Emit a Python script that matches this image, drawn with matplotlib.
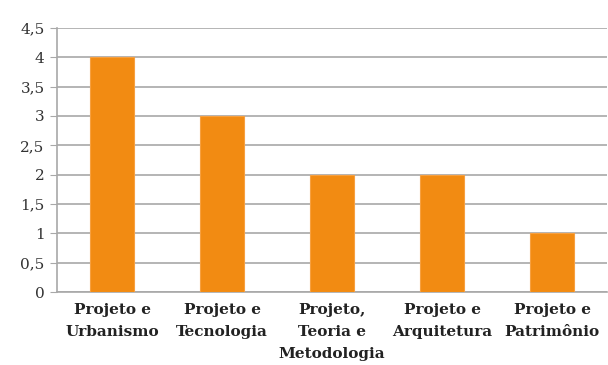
import matplotlib.pyplot as plt
import numpy as np

categorias = ["Projeto e\nUrbanismo", "Projeto e\nTecnologia", "Projeto,\nTeoria e\nMetodologia",
              "Projeto e\nArquitetura", "Projeto e\nPatrimônio"]
valores = [4, 3, 2, 2, 1]
yticks = [0, 0.5, 1, 1.5, 2, 2.5, 3, 3.5, 4, 4.5]
ytick_labels = ["0", "0,5", "1", "1,5", "2", "2,5", "3", "3,5", "4", "4,5"]

fig = plt.figure(figsize=(6.08, 3.65), dpi=100)
ax = fig.add_axes([57/608, 73/365, 550/608, 264/365])

x = np.arange(len(categorias))
ax.bar(x, valores, width=0.4, color="#F28B12", edgecolor="#F7A040", linewidth=0.8, zorder=3)

ax.set_xlim(-0.5, len(categorias) - 0.5)
ax.set_ylim(0, 4.5)
ax.set_yticks(yticks)
ax.set_yticklabels(ytick_labels, family="DejaVu Serif", fontsize=11, color="#333333")
ax.yaxis.grid(True, color="#A8A8A8", linewidth=1.2, zorder=0)
ax.tick_params(axis="y", length=5, color="#A8A8A8", pad=4)

ax.set_xticks(x)
ax.set_xticklabels(categorias, family="DejaVu Serif", fontweight="bold", fontsize=11,
                   color="#222222", linespacing=1.72, va="top")
ax.tick_params(axis="x", length=0, pad=8)

for s in ["top", "right"]:
    ax.spines[s].set_visible(False)
for s in ["left", "bottom"]:
    ax.spines[s].set_color("#A8A8A8")
    ax.spines[s].set_linewidth(1.2)

fig.savefig("out.png", dpi=100)
